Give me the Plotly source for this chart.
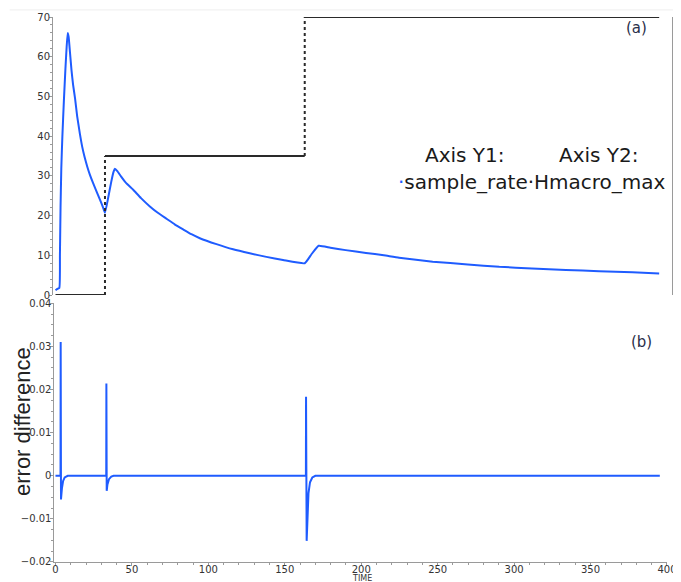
import plotly.graph_objects as go

# ---- data ----
rate_time = [0, 1.0, 2.5, 2.9, 3.3, 3.8, 4.5, 5.5, 6.5, 7.3, 8.0, 8.6, 9.5, 10.5, 11.5, 12.8, 14.2, 16.0,
             17.5, 19.0, 20.8, 22.6, 24.5, 26.5, 29.1, 31.0, 32.4,
             34.5, 36.5, 38.0, 38.9, 40.5, 43.0, 46.0, 50.9, 56.0, 61.8, 67.0, 72.7, 78.0, 83.6, 89.0,
             94.5, 105.4, 116.3, 127.2, 138.1, 149.0, 163.2,
             167.5, 172.3, 180.0, 190.0, 203.3, 215.0, 225.0, 247.0, 270.0, 290.6, 312.0, 334.2,
             356.0, 377.8, 395.3]
sample_rate = [1.2, 1.5, 1.8, 10.0, 22.0, 32.0, 40.0, 49.0, 57.0, 62.5, 66.0, 65.0, 61.0, 56.5, 53.0,
               49.5, 45.0, 40.5, 37.3, 34.8, 32.3, 30.2, 28.3, 26.4, 24.0, 22.2, 20.7,
               24.5, 28.5, 31.0, 31.8, 31.2, 29.8, 28.3, 26.5, 24.4, 22.3, 20.7, 19.2, 17.8, 16.5, 15.3,
               14.3, 12.8, 11.5, 10.5, 9.6, 8.8, 8.0,
               10.2, 12.4, 11.9, 11.3, 10.6, 10.0, 9.4, 8.4, 7.7, 7.1, 6.7, 6.3, 6.0, 5.7, 5.4]

step_time = [0, 32.4, 163.2, 395.3]     # change points + end time
hmacro_max = [10, 20, 30]

err_time = [0, 3.3, 3.4, 3.6, 4.2, 5.0, 6.0, 8.0,
            33.2, 33.3, 33.5, 34.0, 35.0, 36.5, 38.0,
            163.8, 163.9, 164.3, 164.8, 165.5, 166.5, 168.0, 170.0, 395.3]
err_diff = [0, 0, 0.031, -0.0055, -0.003, -0.0012, -0.0004, 0,
            0, 0.0214, -0.0035, -0.002, -0.0008, -0.0002, 0,
            0, 0.0183, -0.0151, -0.009, -0.004, -0.0015, -0.0004, 0, 0]

x_ticks = [0, 50, 100, 150, 200, 250, 300, 350, 400]

BLUE = "#1f5cff"
DARK = "#2a2a2a"
AX = "#9a9a9a"
TXT = "#333333"
FONT = "DejaVu Sans"

fig = go.Figure()

# top: sample_rate on y2
fig.add_trace(go.Scatter(x=rate_time, y=sample_rate, mode="lines", xaxis="x2", yaxis="y2",
                         line=dict(color=BLUE, width=2, shape="spline", smoothing=0.4),
                         showlegend=False))

# top: Hmacro_max on y3 (horizontal solid, vertical dotted)
for i in range(len(hmacro_max)):
    fig.add_trace(go.Scatter(x=[step_time[i], step_time[i + 1]], y=[hmacro_max[i], hmacro_max[i]],
                             mode="lines", xaxis="x2", yaxis="y3",
                             line=dict(color=DARK, width=2), showlegend=False))
for i in range(1, len(hmacro_max)):
    fig.add_trace(go.Scatter(x=[step_time[i], step_time[i]], y=[hmacro_max[i - 1], hmacro_max[i]],
                             mode="lines", xaxis="x2", yaxis="y3",
                             line=dict(color=DARK, width=2, dash="dot"), showlegend=False))

# bottom: error difference
fig.add_trace(go.Scatter(x=err_time, y=err_diff, mode="lines", xaxis="x", yaxis="y",
                         line=dict(color=BLUE, width=2), showlegend=False))

tickfont = dict(family=FONT, size=10, color=TXT)
common = dict(showgrid=False, zeroline=False, showline=True, linecolor=AX, linewidth=1,
              ticks="outside", tickcolor=AX, ticklen=3, tickfont=tickfont, automargin=False)

# page body adds an 8px offset; figure sized so it ends at the window edge
fig.update_layout(
    width=673, height=574,
    margin=dict(l=45, r=9, t=9, b=20, autoexpand=False),
    paper_bgcolor="white", plot_bgcolor="white",
    xaxis=dict(domain=[0.0024, 0.9919], range=[-0.65, 400], anchor="y",
               tickvals=x_ticks, ticklabelstandoff=-5,
               minor=dict(dtick=10, ticks="outside", ticklen=2, tickcolor=AX),
               **common),
    xaxis2=dict(domain=[0, 1], range=[-1.64, 403.7], anchor="y2", visible=False),
    yaxis=dict(domain=[0, 0.4747], range=[-0.02, 0.04], anchor="x", dtick=0.01,
               tickformat="~g", ticklabelstandoff=-3,
               minor=dict(dtick=0.0025, ticks="outside", ticklen=2, tickcolor=AX),
               **common),
    yaxis2=dict(domain=[0.4899, 1.0], range=[0, 70], anchor="x2", dtick=10, ticklabelstandoff=-3,
                minor=dict(dtick=2, ticks="outside", ticklen=2, tickcolor=AX), **common),
    yaxis3=dict(range=[10, 30], overlaying="y2", side="right", anchor="x2", dtick=5,
                minor=dict(dtick=2.5, ticks="outside", ticklen=2, tickcolor=AX), **common),
)

# faint top rule
fig.add_shape(type="line", xref="paper", yref="paper", x0=-0.07, x1=1.02, y0=1.013, y1=1.013,
              line=dict(color="#eeeeee", width=1))

ann_font = dict(family=FONT, size=20, color="#1a1a1a")
fig.add_annotation(text="Axis Y1:", xref="paper", yref="paper", x=(465 - 53) / 619, y=(562 - 155) / 545,
                   showarrow=False, font=ann_font, xanchor="center", yanchor="middle")
fig.add_annotation(text="Axis Y2:", xref="paper", yref="paper", x=(599 - 53) / 619, y=(562 - 155) / 545,
                   showarrow=False, font=ann_font, xanchor="center", yanchor="middle")
fig.add_annotation(text=f"<span style='color:{BLUE}'>·</span>sample_rate·Hmacro_max",
                   xref="paper", yref="paper", x=(668 - 53) / 619, y=(562 - 182) / 545,
                   showarrow=False, font=ann_font, xanchor="right", yanchor="middle")

fig.add_annotation(text="(a)", xref="paper", yref="paper", x=(636 - 53) / 619, y=(562 - 28) / 545,
                   showarrow=False, font=dict(family=FONT, size=15, color="#2a2f4a"),
                   xanchor="center", yanchor="middle")
fig.add_annotation(text="(b)", xref="paper", yref="paper", x=(641 - 53) / 619, y=(562 - 342) / 545,
                   showarrow=False, font=dict(family=FONT, size=15, color="#2a2f4a"),
                   xanchor="center", yanchor="middle")

fig.add_annotation(text="error difference", xref="paper", yref="paper", x=(22 - 53) / 619,
                   y=(562 - 422) / 545, textangle=-90, showarrow=False,
                   font=dict(family="Liberation Sans Narrow, Liberation Sans", size=22, color="#222222"),
                   xanchor="center", yanchor="middle")
fig.add_annotation(text="TIME", xref="paper", yref="paper", x=(362 - 53) / 619, y=-(578 - 562) / 545,
                   showarrow=False, font=dict(family=FONT, size=8, color=TXT),
                   xanchor="center", yanchor="middle")

fig.write_html("out.html")
